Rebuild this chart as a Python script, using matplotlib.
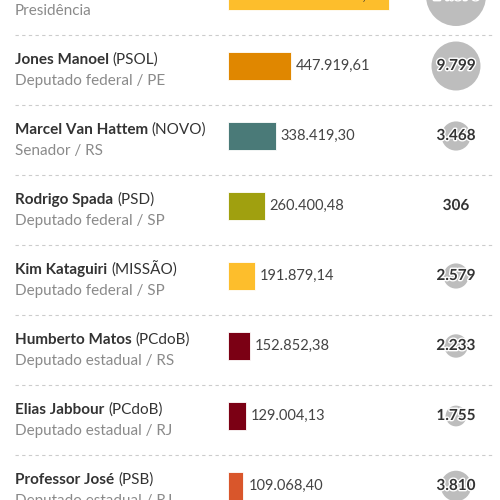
import matplotlib.pyplot as plt
import matplotlib.transforms as mtransforms
import matplotlib.patheffects as pe

plt.rcParams['font.family'] = ['Lato', 'DejaVu Sans']

# dados (visíveis no recorte)
nomes = ['', 'Jones Manoel', 'Marcel Van Hattem', 'Rodrigo Spada', 'Kim Kataguiri',
         'Humberto Matos', 'Elias Jabbour', 'Professor José']
partidos = ['', '(PSOL)', '(NOVO)', '(PSD)', '(MISSÃO)', '(PCdoB)', '(PCdoB)', '(PSB)']
cargos = ['Presidência', 'Deputado federal / PE', 'Senador / RS', 'Deputado federal / SP',
          'Deputado federal / SP', 'Deputado estadual / RS', 'Deputado estadual / RJ',
          'Deputado estadual / RJ']
valores = [1141103.34, 447919.61, 338419.30, 260400.48, 191879.14, 152852.38, 129004.13, 109068.40]
doadores = [14693, 9799, 3468, 306, 2579, 2233, 1755, 3810]
cores = ['#FDBE2C', '#E08700', '#4A7A78', '#A0A00F', '#FDBE2C', '#7B0014', '#7B0014', '#D9562B']


def fmt_br(v, dec=2):
    s = f"{v:,.{dec}f}"
    return s.replace(',', 'X').replace('.', ',').replace('X', '.')


fig = plt.figure(figsize=(5, 5), dpi=100)
ax = fig.add_axes([0, 0, 1, 1])

px = 1.41e-4          # pixels por real
ax.set_xlim(-228 / px, 272 / px)
ax.set_ylim(504 / 70, 4 / 70)
ax.axis('off')

trans = mtransforms.blended_transform_factory(ax.transAxes, ax.transData)
rows = list(range(len(valores)))

ax.barh(rows, valores, height=0.4, color=cores, edgecolor='white', linewidth=0.6, zorder=2)

for i in rows:
    # nome + partido
    if nomes[i]:
        t = ax.text(0.03, i - 0.086, nomes[i] + ' ', transform=trans, fontsize=11,
                    fontweight='bold', color='#333333', va='center', ha='left')
        fig.canvas.draw()
        bb = t.get_window_extent()
        x1 = ax.transAxes.inverted().transform((bb.x1, 0))[0]
        ax.text(x1, i - 0.086, partidos[i], transform=trans, fontsize=11,
                color='#333333', va='center', ha='left')
    ax.text(0.03, i + 0.214, cargos[i], transform=trans, fontsize=11,
            color='#8a8a8a', va='center', ha='left')

    # valor arrecadado
    if i == 0:
        ax.text(valores[i] - 5 / px, i, fmt_br(valores[i]), fontsize=10.5, color='#333333',
                va='center', ha='right', zorder=3)
    else:
        ax.text(valores[i] + 5 / px, i, fmt_br(valores[i]), fontsize=10.5, color='#444444',
                va='center', ha='left', zorder=3)

    # separador
    ax.axhline(i + 39 / 70, xmin=0.03, xmax=0.984, color='#cccccc', lw=0.8,
               ls=(0, (3, 3)), zorder=1)

# círculos de doadores
ax.scatter([0.912] * len(rows), rows, s=[0.127 * d for d in doadores], color='#bdbdbd',
           transform=trans, zorder=2, linewidths=0)
for i in rows:
    ax.text(0.912, i, fmt_br(doadores[i], 0), transform=trans, fontsize=11,
            fontweight='bold', color='#333333', ha='center', va='center', zorder=3,
            path_effects=[pe.withStroke(linewidth=2, foreground='white')])

fig.savefig('out.png', dpi=100)
